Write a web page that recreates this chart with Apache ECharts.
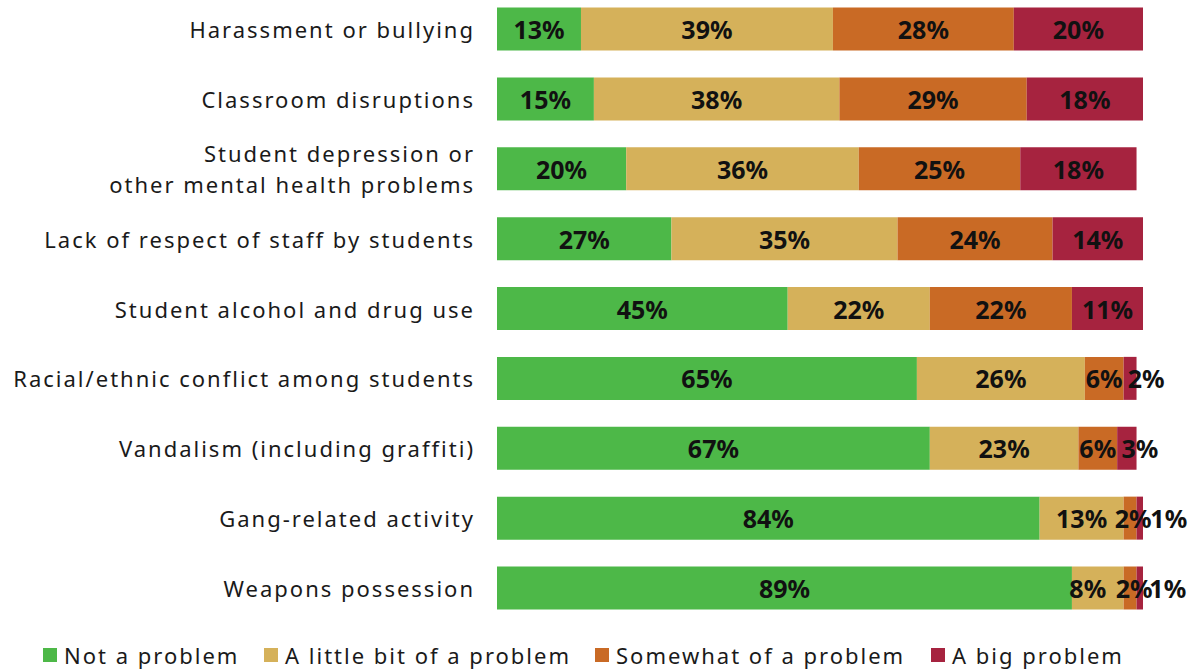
<!DOCTYPE html>
<html>
<head>
<meta charset="utf-8">
<script src="https://cdn.jsdelivr.net/npm/echarts@6/dist/echarts.min.js"></script>
<style>
  html, body { margin: 0; padding: 0; background: #fff; }
  #chart { width: 1196px; height: 670px; }
  /* open tracking for category and legend text; bar value labels stay tight */
  #chart svg text { letter-spacing: 2px; }
  #chart svg text[style*="bold"] { letter-spacing: 0; }
</style>
</head>
<body>
<div id="chart"></div>
<script>
// Survey items, top to bottom
const categories = [
  'Harassment or bullying',
  'Classroom disruptions',
  'Student depression or\nother mental health problems',
  'Lack of respect of staff by students',
  'Student alcohol and drug use',
  'Racial/ethnic conflict among students',
  'Vandalism (including graffiti)',
  'Gang-related activity',
  'Weapons possession'
];

const seriesNames = ['Not a problem', 'A little bit of a problem', 'Somewhat of a problem', 'A big problem'];

// Percent of respondents per answer
const notAProblem   = [13, 15, 20, 27, 45, 65, 67, 84, 89];
const littleProblem = [39, 38, 36, 35, 22, 26, 23, 13, 8];
const somewhat      = [28, 29, 25, 24, 22, 6, 6, 2, 2];
const bigProblem    = [20, 18, 18, 14, 11, 2, 3, 1, 1];

const colors = ['#4db848', '#d5b15a', '#c96a25', '#a6233f'];
const FONT = '"Noto Sans", sans-serif';

const values = [notAProblem, littleProblem, somewhat, bigProblem];
const legendLeft = [38, 259, 590, 926];

// Horizontal label nudges (px) for thin segments whose labels would collide:
// key "series:row"
const labelNudge = {
  '1:8': -10,
  '2:7': 3, '2:8': 4,
  '3:5': 16, '3:6': 13, '3:7': 29, '3:8': 28
};

const chart = echarts.init(document.getElementById('chart'), null, { renderer: 'svg' });

chart.setOption({
  animation: false,
  backgroundColor: '#fff',
  grid: { left: 497, right: 53, top: 29, bottom: 82, containLabel: false },
  xAxis: {
    type: 'value', min: 0, max: 100,
    show: false
  },
  yAxis: {
    type: 'category',
    data: categories,
    inverse: true,
    boundaryGap: false,
    axisLine: { show: false },
    axisTick: { show: false },
    splitLine: { show: false },
    axisLabel: {
      color: '#1a1a1a',
      fontFamily: FONT,
      fontSize: 22,
      lineHeight: 31,
      margin: 22
    }
  },
  // one legend block per answer so each sits at its own x position
  legend: seriesNames.map((name, i) => ({
    left: legendLeft[i],
    top: 639,
    itemWidth: 14,
    itemHeight: 14,
    icon: 'rect',
    textStyle: { color: '#1a1a1a', fontFamily: FONT, fontSize: 22, padding: [0, 0, 0, 2] },
    data: [name]
  })),
  series: seriesNames.map((name, i) => ({
    name,
    type: 'bar',
    stack: 'total',
    barWidth: 43,
    data: values[i].map((v, row) => {
      const dx = labelNudge[i + ':' + row];
      return dx ? { value: v, label: { offset: [dx, 0] } } : v;
    }),
    itemStyle: { color: colors[i] },
    label: {
      show: true,
      position: 'inside',
      formatter: p => p.value + '%',
      color: '#111',
      fontFamily: FONT,
      fontWeight: 'bold',
      fontSize: 25
    }
  }))
});
</script>
</body>
</html>
